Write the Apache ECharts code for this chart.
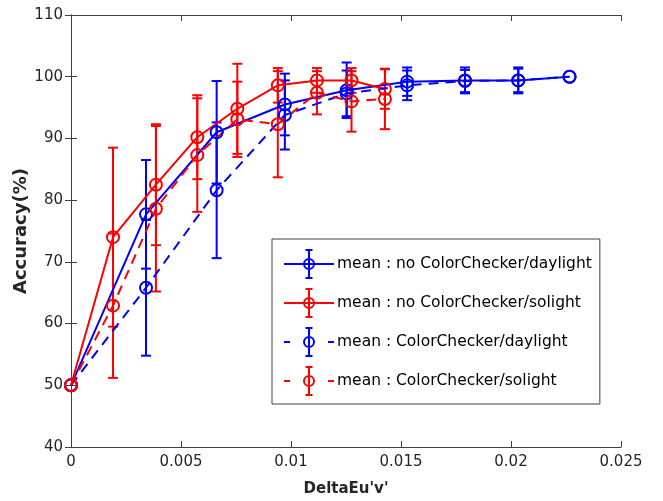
<!DOCTYPE html>
<html>
<head>
<meta charset="utf-8">
<script src="https://cdn.jsdelivr.net/npm/echarts@6/dist/echarts.min.js"></script>
<style>
  html, body { margin: 0; padding: 0; background: #fff; }
  #chart { width: 663px; height: 501px; }
</style>
</head>
<body>
<div id="chart"></div>
<script>
// x positions (DeltaEu'v') shared by the two daylight series and the two solight series
var xDaylight = [0, 0.00341, 0.00662, 0.00972, 0.01253, 0.01528, 0.01791, 0.02033, 0.02266];
var xSolight  = [0, 0.00191, 0.00386, 0.00574, 0.00756, 0.0094, 0.01118, 0.01275, 0.01427];

// mean accuracy (%) and error (half length of the bar)
var noCcDaylight    = [50, 77.7, 91.0, 95.5, 97.8, 99.2, 99.4, 99.4, 100];
var noCcDaylightErr = [0, 8.8, 8.3, 5.0, 4.5, 2.3, 2.1, 2.1, 0];
var noCcSolight     = [50, 74.0, 82.5, 90.2, 94.8, 98.6, 99.4, 99.4, 98.0];
var noCcSolightErr  = [0, 14.5, 9.8, 6.8, 7.3, 2.8, 2.0, 2.0, 3.2];
var ccDaylight      = [50, 65.8, 81.6, 93.8, 97.3, 98.6, 99.3, 99.4, 100];
var ccDaylightErr   = [0, 11.0, 11.0, 5.6, 3.7, 2.4, 1.8, 1.9, 0];
var ccSolight       = [50, 62.9, 78.6, 87.3, 93.1, 92.3, 97.4, 96.0, 96.4];
var ccSolightErr    = [0, 11.7, 13.4, 9.2, 6.1, 8.6, 3.5, 4.9, 4.9];

var xTickLabels = ['0', '0.005', '0.01', '0.015', '0.02', '0.025'];
var seriesNames = [
  'mean : no ColorChecker/daylight',
  'mean : no ColorChecker/solight',
  'mean : ColorChecker/daylight',
  'mean : ColorChecker/solight'
];

var BLUE = '#0000ff', RED = '#ff0000', AXIS = '#262626', LINE = '#404040';
var FONT = 'DejaVu Sans';

function pairs(xs, ys) {
  return xs.map(function (x, i) { return [x, ys[i]]; });
}
function triples(xs, ys, es) {
  return xs.map(function (x, i) { return [x, ys[i], es[i]]; });
}

// vertical error bar with caps, placed through the axes
function errorBars(color) {
  return function (params, api) {
    var x = api.value(0), y = api.value(1), e = api.value(2);
    if (!e) return null;
    var top = api.coord([x, y + e]);
    var bot = api.coord([x, y - e]);
    var hw = 5;
    var st = { stroke: color, lineWidth: 2, fill: null };
    return {
      type: 'group',
      children: [
        { type: 'line', shape: { x1: top[0], y1: top[1], x2: bot[0], y2: bot[1] }, style: st },
        { type: 'line', shape: { x1: top[0] - hw, y1: top[1], x2: top[0] + hw, y2: top[1] }, style: st },
        { type: 'line', shape: { x1: bot[0] - hw, y1: bot[1], x2: bot[0] + hw, y2: bot[1] }, style: st }
      ]
    };
  };
}

function errSeries(name, xs, ys, es, color) {
  return {
    type: 'custom',
    name: name + ' err',
    renderItem: errorBars(color),
    encode: { x: 0, y: 1 },
    data: triples(xs, ys, es),
    silent: true
  };
}

function meanSeries(name, xs, ys, color, dashed) {
  return {
    type: 'line',
    name: name,
    data: pairs(xs, ys),
    symbol: 'circle',
    symbolSize: 12,
    showAllSymbol: true,
    itemStyle: { color: 'rgba(0,0,0,0)', borderColor: color, borderWidth: 2 },
    lineStyle: { color: color, width: 2, type: dashed ? [10, 7] : 'solid' },
    emphasis: { disabled: true },
    animation: false
  };
}

// legend glyph: line, circle marker and a small error bar
var iconSolid = 'path://M0 14L50 14M30 14A5 5 0 1 1 20 14A5 5 0 1 1 30 14M25 0L25 28M21.5 0L28.5 0M21.5 28L28.5 28';
var iconDash  = 'path://M0 14L6 14M44 14L50 14M30 14A5 5 0 1 1 20 14A5 5 0 1 1 30 14M25 0L25 28M21.5 0L28.5 0M21.5 28L28.5 28';

function legendItem(name, icon, color) {
  return {
    name: name,
    icon: icon,
    itemStyle: { color: 'rgba(0,0,0,0)', borderColor: color, borderWidth: 2 }
  };
}

var myChart = echarts.init(document.getElementById('chart'), null, { renderer: 'canvas' });

var option = {
  animation: false,
  backgroundColor: '#fff',
  textStyle: { fontFamily: FONT },
  grid: { left: 71, right: 42, top: 15, bottom: 54, containLabel: false, outerBoundsMode: 'none' },
  legend: {
    orient: 'vertical',
    left: 272,
    top: 239,
    padding: [10, 8, 8, 11],
    itemWidth: 50,
    itemHeight: 28,
    itemGap: 9,
    symbolKeepAspect: true,
    borderColor: LINE,
    borderWidth: 1,
    backgroundColor: '#fff',
    selectedMode: false,
    textStyle: { fontFamily: FONT, fontSize: 15.5, color: '#000', padding: [0, 0, 0, -2] },
    data: [
      legendItem(seriesNames[0], iconSolid, BLUE),
      legendItem(seriesNames[1], iconSolid, RED),
      legendItem(seriesNames[2], iconDash, BLUE),
      legendItem(seriesNames[3], iconDash, RED)
    ]
  },
  xAxis: [{
    type: 'value',
    min: 0,
    max: 0.025,
    interval: 0.005,
    name: "DeltaEu'v'",
    nameLocation: 'middle',
    nameGap: 35,
    nameMoveOverlap: false,
    nameTextStyle: { fontFamily: FONT, fontSize: 15, fontWeight: 'bold', color: AXIS },
    axisLine: { show: true, lineStyle: { color: LINE, width: 1 } },
    axisTick: { show: true, inside: true, length: 6, lineStyle: { color: LINE } },
    axisLabel: {
      fontFamily: FONT, fontSize: 15, color: AXIS, margin: 8,
      formatter: function (v) { return xTickLabels[Math.round(v / 0.005)]; }
    },
    splitLine: { show: false }
  }, {
    type: 'value',
    position: 'top',
    min: 0,
    max: 0.025,
    interval: 0.005,
    axisLine: { show: true, lineStyle: { color: LINE, width: 1 } },
    axisTick: { show: true, inside: true, length: 6, lineStyle: { color: LINE } },
    axisLabel: { show: false },
    splitLine: { show: false }
  }],
  yAxis: [{
    type: 'value',
    min: 40,
    max: 110,
    interval: 10,
    name: 'Accuracy(%)',
    nameLocation: 'middle',
    nameGap: 41,
    nameMoveOverlap: false,
    nameTextStyle: { fontFamily: FONT, fontSize: 18, fontWeight: 'bold', color: AXIS },
    axisLine: { show: true, lineStyle: { color: LINE, width: 1 } },
    axisTick: { show: true, inside: true, length: 6, lineStyle: { color: LINE } },
    axisLabel: { fontFamily: FONT, fontSize: 15, color: AXIS, margin: 8 },
    splitLine: { show: false }
  }, {
    type: 'value',
    position: 'right',
    min: 40,
    max: 110,
    interval: 10,
    axisLine: { show: true, lineStyle: { color: LINE, width: 1 } },
    axisTick: { show: true, inside: true, length: 6, lineStyle: { color: LINE } },
    axisLabel: { show: false },
    splitLine: { show: false }
  }],
  series: [
    errSeries(seriesNames[0], xDaylight, noCcDaylight, noCcDaylightErr, BLUE),
    meanSeries(seriesNames[0], xDaylight, noCcDaylight, BLUE, false),
    errSeries(seriesNames[1], xSolight, noCcSolight, noCcSolightErr, RED),
    meanSeries(seriesNames[1], xSolight, noCcSolight, RED, false),
    errSeries(seriesNames[2], xDaylight, ccDaylight, ccDaylightErr, BLUE),
    meanSeries(seriesNames[2], xDaylight, ccDaylight, BLUE, true),
    errSeries(seriesNames[3], xSolight, ccSolight, ccSolightErr, RED),
    meanSeries(seriesNames[3], xSolight, ccSolight, RED, true)
  ]
};

myChart.setOption(option);
</script>
</body>
</html>
